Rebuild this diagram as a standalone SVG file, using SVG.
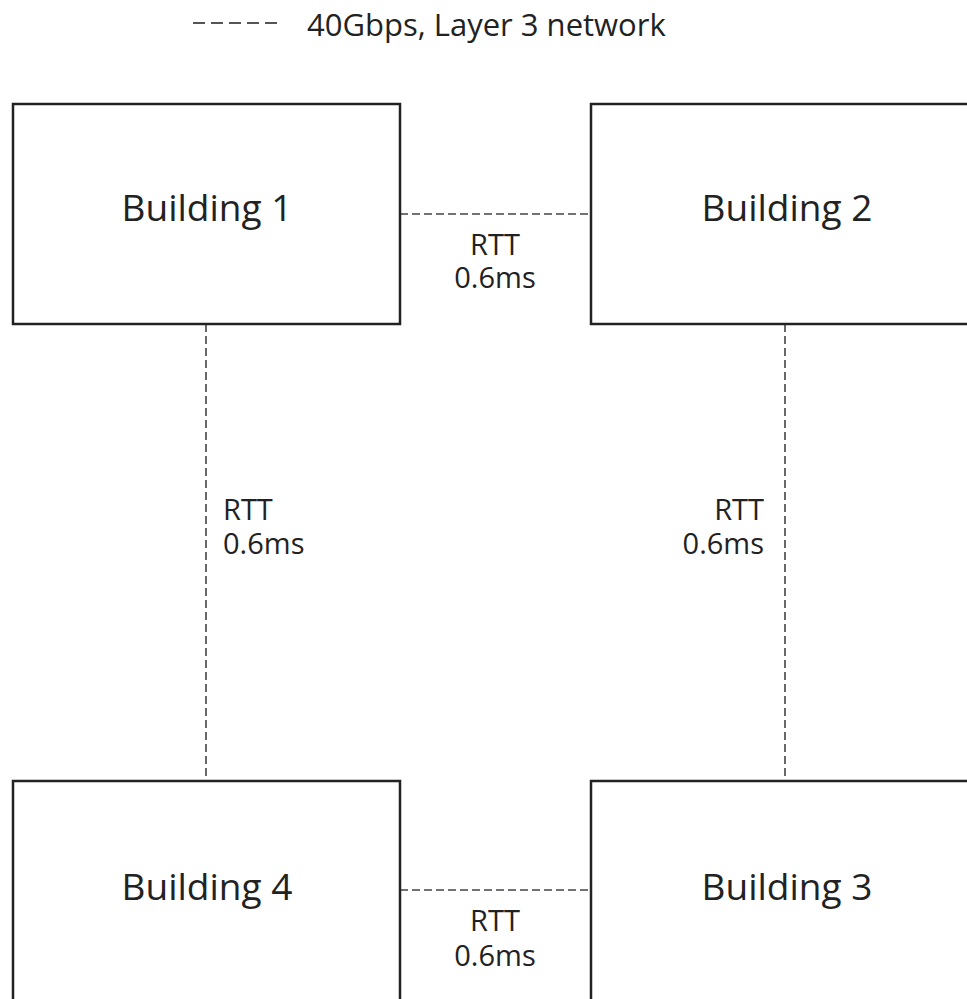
<svg xmlns="http://www.w3.org/2000/svg" width="967" height="999" viewBox="0 0 967 999">
<style>
.box{fill:#fff;stroke:#222;stroke-width:2.5}
.t{font-family:"Open Sans","Noto Sans",sans-serif;fill:#222}
.big{font-size:37px}
.sm{font-size:29px}
.lg{font-size:31px}
.link{stroke:#444;stroke-width:1.6;stroke-dasharray:8 4;fill:none}
</style>
<rect width="967" height="999" fill="#fff"/>
<g id="legend">
<line x1="193" y1="23" x2="277" y2="23" stroke="#555" stroke-width="1.8" stroke-dasharray="12 6"/>
<text class="t lg" x="307" y="36">40Gbps, Layer 3 network</text>
</g>
<g id="connectors">
<line class="link" x1="400" y1="214" x2="591" y2="214"/>
<line class="link" x1="400" y1="890" x2="591" y2="890"/>
<line class="link" x1="206" y1="324" x2="206" y2="781"/>
<line class="link" x1="785" y1="324" x2="785" y2="781"/>
<text class="t sm" x="495" y="255" text-anchor="middle">RTT</text>
<text class="t sm" x="495" y="288" text-anchor="middle">0.6ms</text>
<text class="t sm" x="223" y="520">RTT</text>
<text class="t sm" x="223" y="554">0.6ms</text>
<text class="t sm" x="764" y="520" text-anchor="end">RTT</text>
<text class="t sm" x="764" y="554" text-anchor="end">0.6ms</text>
<text class="t sm" x="495" y="931" text-anchor="middle">RTT</text>
<text class="t sm" x="495" y="966" text-anchor="middle">0.6ms</text>
</g>
<g id="building1">
<rect class="box" x="13" y="104" width="387" height="220"/>
<text class="t big" x="207" y="221" text-anchor="middle">Building 1</text>
</g>
<g id="building2">
<rect class="box" x="591" y="104" width="400" height="220"/>
<text class="t big" x="787" y="221" text-anchor="middle">Building 2</text>
</g>
<g id="building4">
<rect class="box" x="13" y="781" width="387" height="240"/>
<text class="t big" x="207" y="900" text-anchor="middle">Building 4</text>
</g>
<g id="building3">
<rect class="box" x="591" y="781" width="400" height="240"/>
<text class="t big" x="787" y="900" text-anchor="middle">Building 3</text>
</g>
</svg>
